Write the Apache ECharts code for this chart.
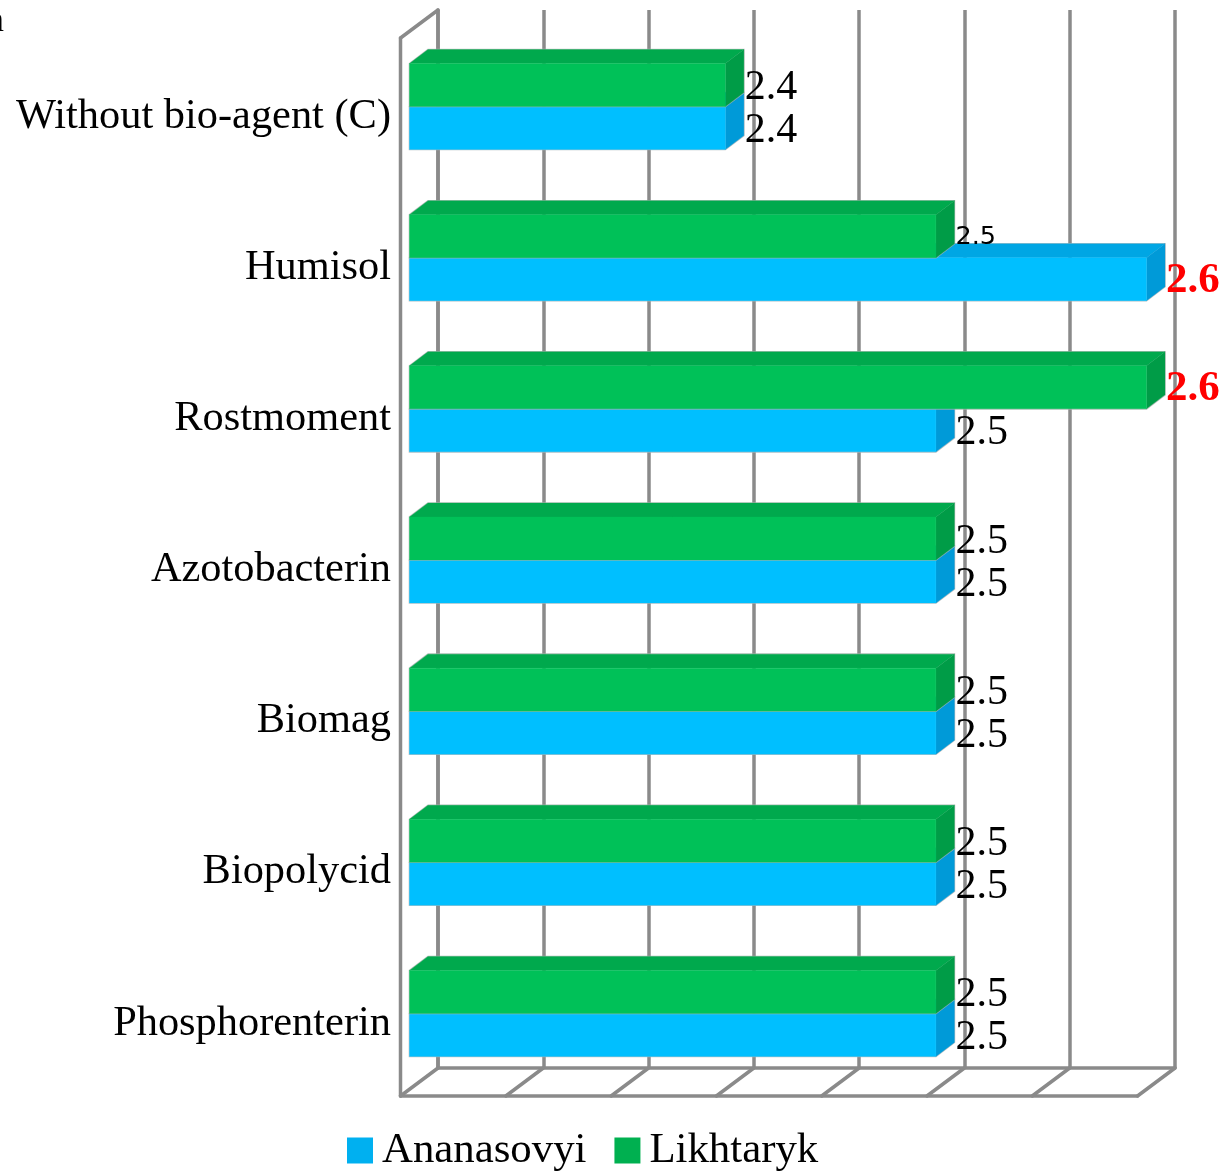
<!DOCTYPE html>
<html>
<head>
<meta charset="utf-8">
<style>html,body{margin:0;padding:0;background:#fff}#chart{width:1222px;height:1174px}</style>
<script src="https://cdn.jsdelivr.net/npm/echarts@6/dist/echarts.min.js"></script>
</head>
<body>
<div id="chart"></div>
<script>
var categories = ['Without bio-agent (C)', 'Humisol', 'Rostmoment', 'Azotobacterin', 'Biomag', 'Biopolycid', 'Phosphorenterin'];
var ananasovyi = [2.4, 2.6, 2.5, 2.5, 2.5, 2.5, 2.5];
var likhtaryk = [2.4, 2.5, 2.6, 2.5, 2.5, 2.5, 2.5];
var axisTicks = [2.25, 2.3, 2.35, 2.4, 2.45, 2.5, 2.55, 2.6];

var FONT = '"Liberation Serif", serif';
var GRID = '#8a8a8a';
var GRID_W = 3.5;
var FRONT = {x: -37.5, y: 28};      // wall-to-front projection
var BAR_NEAR = {x: -28.5, y: 21};
var BAR_FAR = {x: -10, y: 7};
var BAR_H = 43;
var SMALL_LABEL = {series: 1, index: 1}; // Likhtaryk / Humisol label is drawn small

function bar3d(faces, dir, seriesIndex) {
  return function (params, api) {
    var v = api.value(0);
    var p0 = api.coord([axisTicks[0], params.dataIndex]);
    var p1 = api.coord([v, params.dataIndex]);
    var yc = p0[1] + BAR_NEAR.y;
    var yTop = dir < 0 ? yc - BAR_H : yc;
    var yBot = yTop + BAR_H;
    var xL = p0[0] + BAR_NEAR.x, xR = p1[0] + BAR_NEAR.x;
    var dx = BAR_FAR.x - BAR_NEAR.x, dy = BAR_FAR.y - BAR_NEAR.y;
    function poly(pts, fill) {
      return {type: 'polygon', shape: {points: pts}, style: {fill: fill, stroke: fill, lineWidth: 0.3}};
    }
    var isMax = v >= 2.6;
    var isSmall = SMALL_LABEL.series === seriesIndex && SMALL_LABEL.index === params.dataIndex;
    return {
      type: 'group',
      children: [
        {
          type: 'polygon',
          shape: {points: [[xL, yBot], [xL, yTop], [xL + dx, yTop + dy], [xR + dx, yTop + dy], [xR + dx, yBot + dy], [xR, yBot]]},
          style: {fill: 'none', stroke: 'rgba(180,180,180,0.8)', lineWidth: 1.6}
        },
        poly([[xL, yTop], [xR, yTop], [xR + dx, yTop + dy], [xL + dx, yTop + dy]], faces.top),
        poly([[xR, yTop], [xR + dx, yTop + dy], [xR + dx, yBot + dy], [xR, yBot]], faces.side),
        poly([[xL, yTop], [xR, yTop], [xR, yBot], [xL, yBot]], faces.front),
        {
          type: 'text',
          z2: 10,
          style: {
            text: v.toFixed(1),
            x: xR + dx + 1,
            y: (yTop + yBot) / 2 + (isSmall ? 1 : (isMax ? 2 : 3)),
            align: 'left',
            verticalAlign: 'middle',
            fill: isMax ? '#ff0000' : '#000',
            font: isSmall ? '25.5px "DejaVu Sans"' :
              (isMax ? 'bold 43px ' : '42px ') + FONT
          }
        }
      ]
    };
  };
}

function renderFrame(params, api) {
  var v = api.value(0);
  var cs = params.coordSys;
  var x = api.coord([v, 0])[0];
  var yB = cs.y + cs.height, yT = cs.y;
  var line = {stroke: GRID, lineWidth: GRID_W, lineCap: 'round'};
  var kids = [{
    type: 'line',
    shape: {x1: x, y1: yB, x2: x + FRONT.x, y2: yB + FRONT.y},
    style: line
  }];
  if (params.dataIndex === 0) {
    var xEnd = api.coord([axisTicks[axisTicks.length - 1], 0])[0];
    kids.push({type: 'line', shape: {x1: x + FRONT.x, y1: yB + FRONT.y, x2: xEnd + FRONT.x, y2: yB + FRONT.y}, style: line});
    kids.push({type: 'line', shape: {x1: x + FRONT.x, y1: yB + FRONT.y, x2: x + FRONT.x, y2: yT + FRONT.y}, style: line});
    kids.push({type: 'line', shape: {x1: x + FRONT.x, y1: yT + FRONT.y, x2: x, y2: yT}, style: line});
  }
  return {type: 'group', children: kids};
}

var chart = echarts.init(document.getElementById('chart'), null, {renderer: 'canvas'});
chart.setOption({
  animation: false,
  backgroundColor: '#fff',
  grid: {left: 438, top: 10, width: 737, height: 1058, containLabel: false},
  legend: {
    left: 347, top: 1129, padding: 0,
    itemWidth: 26, itemHeight: 26, itemGap: 28, icon: 'rect',
    data: ['Ananasovyi', 'Likhtaryk'],
    textStyle: {fontFamily: FONT, fontSize: 42.8, color: '#000', padding: [5, 0, 0, 4]}
  },
  graphic: [{
    type: 'text', left: -14, top: 4, silent: true,
    style: {text: 'n', font: '36px ' + FONT, fill: '#000'}
  }],
  xAxis: {
    type: 'value', min: 2.25, max: 2.6, interval: 0.05,
    axisLabel: {show: false}, axisTick: {show: false},
    axisLine: {show: true, onZero: false, lineStyle: {color: GRID, width: GRID_W}},
    splitLine: {show: true, lineStyle: {color: GRID, width: GRID_W}}
  },
  yAxis: {
    type: 'category', inverse: true, data: categories,
    axisTick: {show: false},
    axisLine: {show: true, lineStyle: {color: GRID, width: GRID_W}},
    splitLine: {show: false},
    axisLabel: {
      margin: 47, fontFamily: FONT, fontSize: 42.4, color: '#000',
      verticalAlign: 'top', lineHeight: 62, interval: 0
    }
  },
  series: [
    {
      type: 'custom', name: 'frame', silent: true, z: 1,
      encode: {x: 0},
      data: axisTicks.map(function (t) { return [t]; }),
      renderItem: renderFrame
    },
    {
      type: 'custom', name: 'Ananasovyi', z: 2,
      itemStyle: {color: '#00B0F0'},
      encode: {x: 0},
      data: ananasovyi.map(function (v) { return [v]; }),
      renderItem: bar3d({front: '#00BFFF', top: '#00A6E4', side: '#009AD8'}, 1, 0)
    },
    {
      type: 'custom', name: 'Likhtaryk', z: 3,
      itemStyle: {color: '#00B050'},
      encode: {x: 0},
      data: likhtaryk.map(function (v) { return [v]; }),
      renderItem: bar3d({front: '#00C158', top: '#00A94D', side: '#009C47'}, -1, 1)
    }
  ]
});
</script>
</body>
</html>
